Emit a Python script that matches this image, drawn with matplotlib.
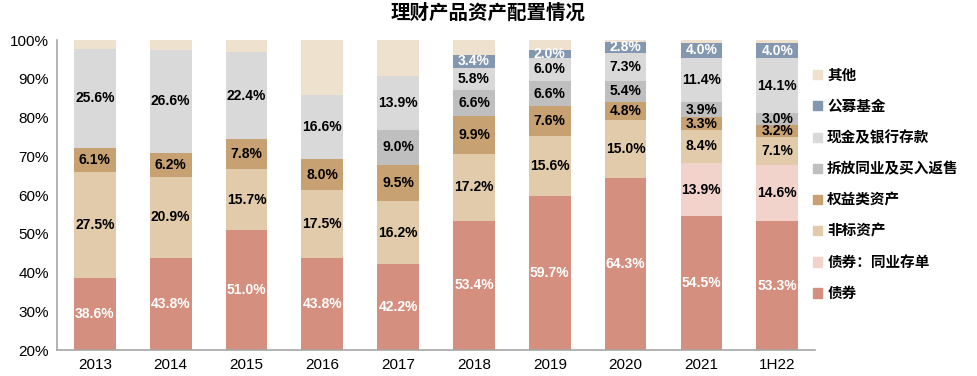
import numpy as np
import matplotlib
matplotlib.use("Agg")
import matplotlib.pyplot as plt
from matplotlib.patches import Patch

plt.rcParams['font.family'] = ['Liberation Sans', 'Noto Sans CJK SC', 'DejaVu Sans']

years = ['2013', '2014', '2015', '2016', '2017', '2018', '2019', '2020', '2021', '1H22']

# bottom to top, percent of total
bond      = [38.6, 43.8, 51.0, 43.8, 42.2, 53.4, 59.7, 64.3, 54.5, 53.3]
ncd       = [0, 0, 0, 0, 0, 0, 0, 0, 13.9, 14.6]
nonstd    = [27.5, 20.9, 15.7, 17.5, 16.2, 17.2, 15.6, 15.0, 8.4, 7.1]
equity    = [6.1, 6.2, 7.8, 8.0, 9.5, 9.9, 7.6, 4.8, 3.3, 3.2]
interbank = [0, 0, 0, 0, 9.0, 6.6, 6.6, 5.4, 3.9, 3.0]
cash      = [25.6, 26.6, 22.4, 16.6, 13.9, 5.8, 6.0, 7.3, 11.4, 14.1]
fund      = [0, 0, 0, 0, 0, 3.4, 2.0, 2.8, 4.0, 4.0]
other     = [2.2, 2.5, 3.1, 14.1, 9.2, 3.7, 2.5, 0.4, 0.6, 0.7]

series = [
    ('债券', bond, '#D58F7E', 'white', True),
    ('债券：同业存单', ncd, '#F2D3CC', 'black', True),
    ('非标资产', nonstd, '#E2CBAA', 'black', True),
    ('权益类资产', equity, '#C8A173', 'black', True),
    ('拆放同业及买入返售', interbank, '#BFBFBF', 'black', True),
    ('现金及银行存款', cash, '#D9D9D9', 'black', True),
    ('公募基金', fund, '#8497B0', 'white', True),
    ('其他', other, '#EEE2CE', 'black', False),
]

fig = plt.figure(figsize=(9.77, 3.76), dpi=100)
ax = fig.add_axes([0.0583, 0.069, 0.776, 0.824])

x = np.arange(len(years))
ymin = 20
bottom = np.zeros(len(years))
for name, vals, color, tcolor, show in series:
    vals = np.array(vals)
    ax.bar(x, vals, 0.55, bottom=bottom, color=color, label=name, zorder=2)
    if show:
        for i, v in enumerate(vals):
            if v <= 0:
                continue
            lo = max(bottom[i], ymin)
            hi = bottom[i] + v
            ax.text(x[i], (lo + hi) / 2, f'{v:.1f}%', ha='center', va='center',
                    color=tcolor, fontsize=10, fontweight='bold', zorder=3)
    bottom += vals

ax.set_xlim(-0.5, len(years) - 0.5)
ax.set_ylim(ymin, 100)
ax.set_yticks(range(20, 101, 10))
ax.set_yticklabels([f'{t}%' for t in range(20, 101, 10)], fontsize=11)
ax.set_xticks(x)
ax.set_xticklabels(years, fontsize=11)
ax.tick_params(length=0, pad=6)
for s in ['top', 'right']:
    ax.spines[s].set_visible(False)
for s in ['left', 'bottom']:
    ax.spines[s].set_color('#A6A6A6')
    ax.spines[s].set_linewidth(1.2)

handles = [Patch(color=c, label=n) for n, _, c, _, _ in series][::-1]
leg = fig.legend(handles=handles, loc='upper left', bbox_to_anchor=(0.819, 0.852),
                 frameon=False, handlelength=0.6, handleheight=0.6, handletextpad=0.35,
                 labelspacing=1.17, prop={'size': 10.5, 'weight': 'bold'})

fig.suptitle('理财产品资产配置情况', x=0.5, y=0.99, fontsize=14, fontweight='bold')

fig.savefig('out.png', dpi=100)
